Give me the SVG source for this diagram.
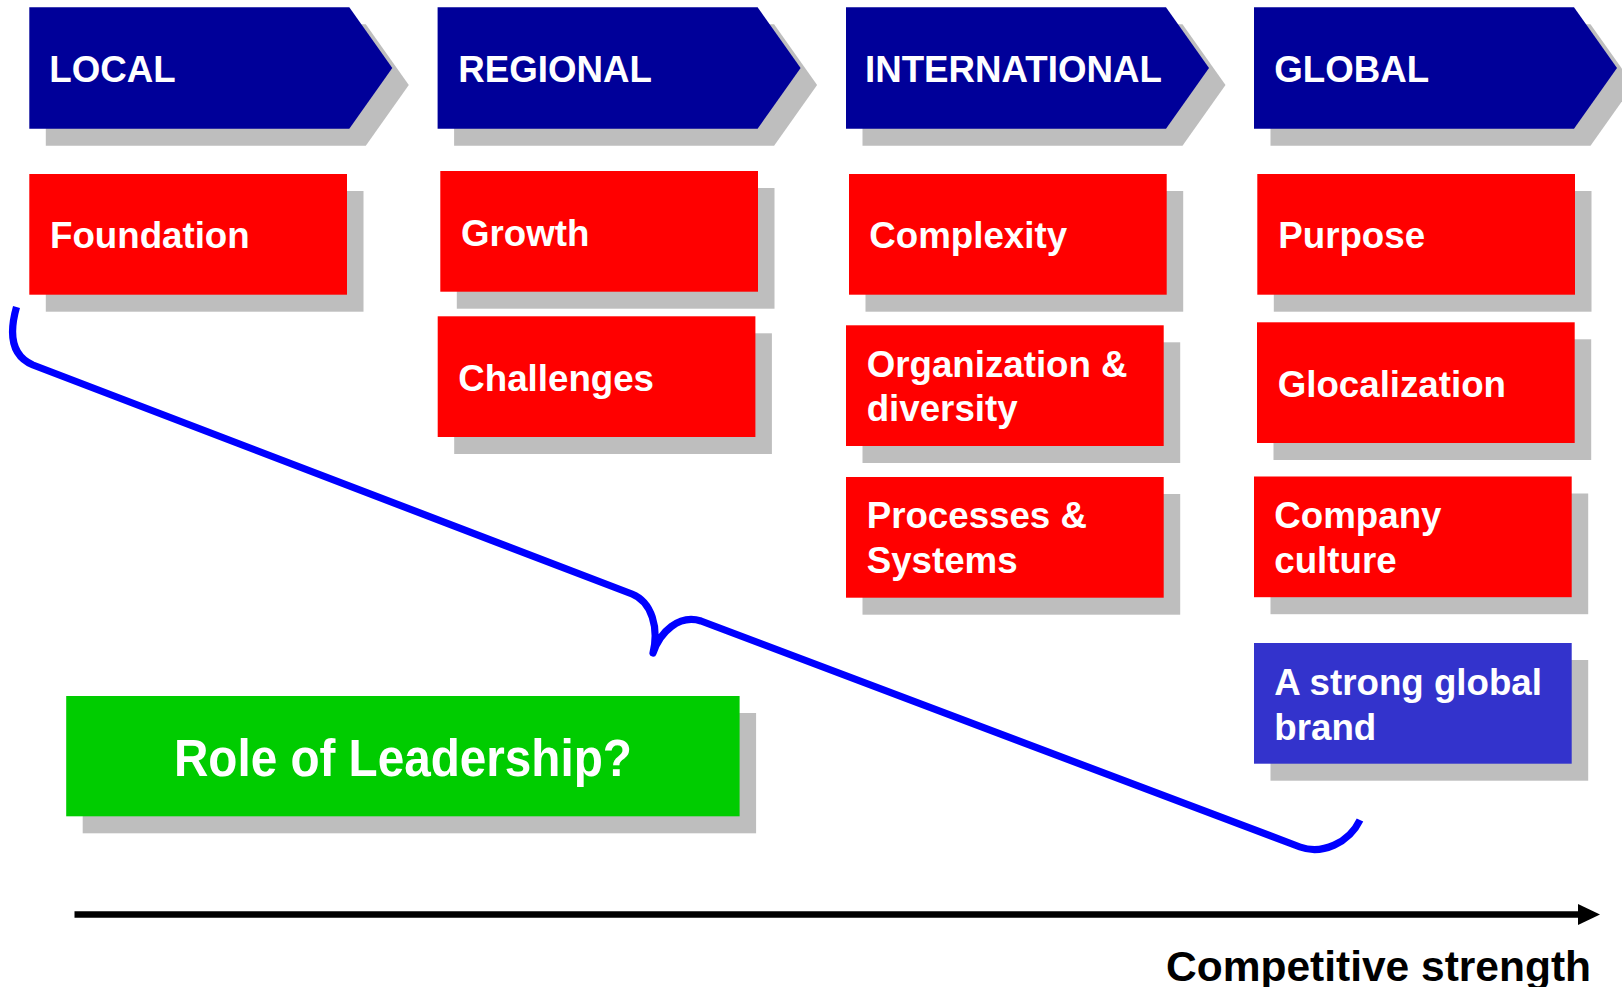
<svg xmlns="http://www.w3.org/2000/svg" xmlns:xlink="http://www.w3.org/1999/xlink" width="1622" height="987" viewBox="0 0 1622 987">
  <style>
    .shadow { fill: #BEBEBE; }
    .stage { fill: #000099; }
    .item { fill: #FF0000; }
    .brand { fill: #3333CC; }
    .lead { fill: #00CC00; }
    .label { font-family: "Liberation Sans", Arial, sans-serif; font-weight: bold; font-size: 36.7px; fill: #FFFFFF; }
    .axis-label { font-family: "Liberation Sans", Arial, sans-serif; font-weight: bold; font-size: 42.5px; fill: #000000; }
    .brace { fill: none; stroke: #0000FF; stroke-width: 7.2; stroke-linejoin: round; stroke-linecap: butt; }
    .axis { fill: none; stroke: #000000; stroke-width: 6.5; }
  </style>
  <defs>
    <path id="chevron" d="M0,0 H320 L363,60.7 L320,121.4 H0 Z"/>
    <rect id="box" x="0" y="0" width="317.7" height="120.7"/>
    <marker id="arrowhead" markerUnits="userSpaceOnUse" markerWidth="24" markerHeight="24" refX="2" refY="11" orient="auto">
      <path d="M0,0.5 L22,11 L0,21.5 Z" fill="#000000"/>
    </marker>
  </defs>

  <rect width="1622" height="987" fill="#FFFFFF"/>

  <!-- stage headers -->
  <g id="stage-local" transform="translate(29.3,7.3)">
    <use xlink:href="#chevron" class="shadow" x="16.5" y="17"/>
    <use xlink:href="#chevron" class="stage"/>
    <text class="label" x="20" y="74.4">LOCAL</text>
  </g>
  <g id="stage-regional" transform="translate(437.6,7.3)">
    <use xlink:href="#chevron" class="shadow" x="16.5" y="17"/>
    <use xlink:href="#chevron" class="stage"/>
    <text class="label" x="20.6" y="74.4">REGIONAL</text>
  </g>
  <g id="stage-international" transform="translate(846,7.3)">
    <use xlink:href="#chevron" class="shadow" x="16.5" y="17"/>
    <use xlink:href="#chevron" class="stage"/>
    <text class="label" x="19" y="74.4">INTERNATIONAL</text>
  </g>
  <g id="stage-global" transform="translate(1254,7.3)">
    <use xlink:href="#chevron" class="shadow" x="16.5" y="17"/>
    <use xlink:href="#chevron" class="stage"/>
    <text class="label" x="20.3" y="74.4">GLOBAL</text>
  </g>

  <!-- local -->
  <g id="foundation" transform="translate(29.3,174)">
    <use xlink:href="#box" class="shadow" x="16.5" y="17"/>
    <use xlink:href="#box" class="item"/>
    <text class="label" x="20.7" y="73.7">Foundation</text>
  </g>

  <!-- regional -->
  <g id="growth" transform="translate(440.3,171)">
    <use xlink:href="#box" class="shadow" x="16.5" y="17"/>
    <use xlink:href="#box" class="item"/>
    <text class="label" x="20.7" y="74.5">Growth</text>
  </g>
  <g id="challenges" transform="translate(437.7,316.3)">
    <use xlink:href="#box" class="shadow" x="16.5" y="17"/>
    <use xlink:href="#box" class="item"/>
    <text class="label" x="20.6" y="74.6">Challenges</text>
  </g>

  <!-- international -->
  <g id="complexity" transform="translate(849,174)">
    <use xlink:href="#box" class="shadow" x="16.5" y="17"/>
    <use xlink:href="#box" class="item"/>
    <text class="label" x="20.3" y="73.7">Complexity</text>
  </g>
  <g id="organization" transform="translate(846,325.3)">
    <use xlink:href="#box" class="shadow" x="16.5" y="17"/>
    <use xlink:href="#box" class="item"/>
    <text class="label" x="20.7" y="51.4">Organization &amp;</text>
    <text class="label" x="20.7" y="95.6">diversity</text>
  </g>
  <g id="processes" transform="translate(846,477)">
    <use xlink:href="#box" class="shadow" x="16.5" y="17"/>
    <use xlink:href="#box" class="item"/>
    <text class="label" x="20.7" y="51.3">Processes &amp;</text>
    <text class="label" x="20.7" y="96.1">Systems</text>
  </g>

  <!-- global -->
  <g id="purpose" transform="translate(1257.3,174)">
    <use xlink:href="#box" class="shadow" x="16.5" y="17"/>
    <use xlink:href="#box" class="item"/>
    <text class="label" x="21" y="74">Purpose</text>
  </g>
  <g id="glocalization" transform="translate(1257,322.3)">
    <use xlink:href="#box" class="shadow" x="16.5" y="17"/>
    <use xlink:href="#box" class="item"/>
    <text class="label" x="20.7" y="74.4">Glocalization</text>
  </g>
  <g id="company-culture" transform="translate(1254,476.5)">
    <use xlink:href="#box" class="shadow" x="16.5" y="17"/>
    <use xlink:href="#box" class="item"/>
    <text class="label" x="20.3" y="51.8">Company</text>
    <text class="label" x="20.3" y="96.6">culture</text>
  </g>
  <g id="global-brand" transform="translate(1254,643)">
    <use xlink:href="#box" class="shadow" x="16.5" y="17"/>
    <use xlink:href="#box" class="brand"/>
    <text class="label" x="20.3" y="52">A strong global</text>
    <text class="label" x="20.3" y="96.8">brand</text>
  </g>

  <!-- leadership question -->
  <g id="leadership" transform="translate(66.2,696)">
    <rect class="shadow" x="16.5" y="17" width="673.4" height="120.3"/>
    <rect class="lead" x="0" y="0" width="673.4" height="120.3"/>
    <text x="336.7" y="79.5" text-anchor="middle" textLength="458" lengthAdjust="spacingAndGlyphs" font-family="'Liberation Sans', Arial, sans-serif" font-weight="bold" font-size="51" fill="#FFFFFF">Role of Leadership?</text>
  </g>

  <!-- connectors: curly brace and competitive-strength axis -->
  <g id="connectors">
    <path class="brace" d="M16.5,307 C10,330 9,355 33,365 L632,594 C652,602 659,628 653,653 C660,632 679,614 701,621 L1300,847 C1322,855 1349,843 1360,820"/>
    <line class="axis" x1="74.5" y1="914.5" x2="1580" y2="914.5" marker-end="url(#arrowhead)"/>
  </g>

  <text id="axis-label" class="axis-label" x="1166" y="980.5">Competitive strength</text>
</svg>
